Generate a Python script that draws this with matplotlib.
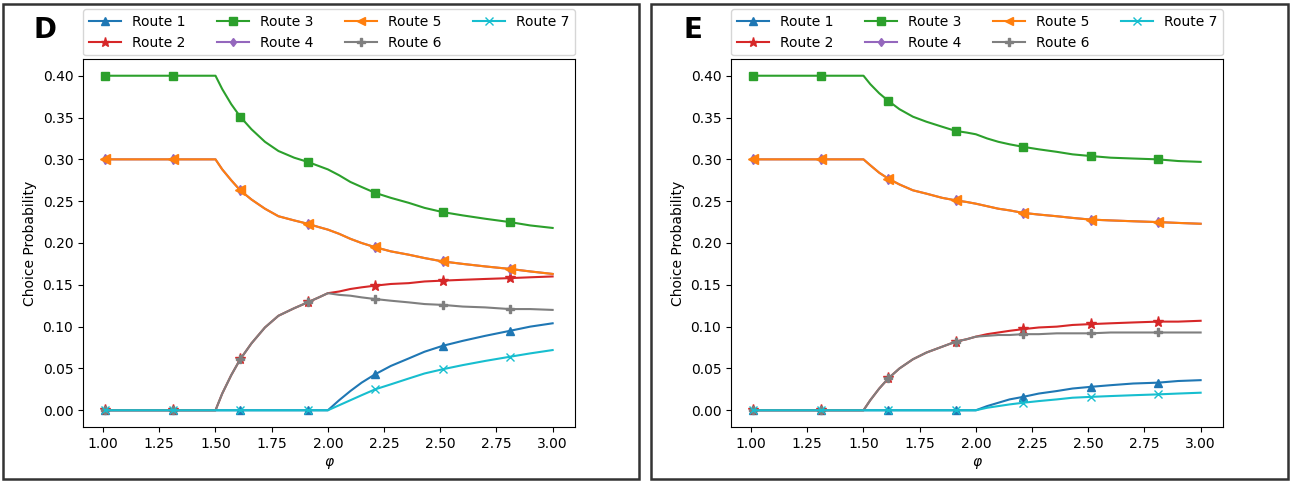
import numpy as np
import matplotlib.pyplot as plt
from matplotlib.patches import Rectangle

# phi sample points (markers sit on 1.01, 1.31, ..., 2.81)
phi = [1.01, 1.31, 1.50, 1.53, 1.57, 1.61, 1.66, 1.72, 1.78, 1.85, 1.91, 1.96, 2.00,
       2.05, 2.10, 2.15, 2.21, 2.28, 2.36, 2.43, 2.51, 2.60, 2.70, 2.81, 2.90, 3.00]
mark_idx = [0, 1, 5, 10, 16, 20, 23]

# panel D
d_r1 = [0, 0, 0, 0, 0, 0, 0, 0, 0, 0, 0, 0, 0,
        0.012, 0.023, 0.033, 0.043, 0.053, 0.062, 0.070, 0.077, 0.083, 0.089, 0.095, 0.100, 0.104]
d_r2 = [0, 0, 0, 0.020, 0.042, 0.061, 0.080, 0.099, 0.113, 0.122, 0.129, 0.135, 0.140,
        0.142, 0.145, 0.147, 0.149, 0.151, 0.152, 0.154, 0.155, 0.156, 0.157, 0.158, 0.159, 0.160]
d_r3 = [0.4, 0.4, 0.4, 0.384, 0.366, 0.351, 0.336, 0.321, 0.310, 0.302, 0.297, 0.292, 0.288,
        0.281, 0.273, 0.267, 0.260, 0.254, 0.248, 0.242, 0.237, 0.233, 0.229, 0.225, 0.221, 0.218]
d_r5 = [0.3, 0.3, 0.3, 0.288, 0.275, 0.263, 0.252, 0.241, 0.232, 0.227, 0.223, 0.219, 0.216,
        0.211, 0.205, 0.200, 0.195, 0.190, 0.186, 0.182, 0.178, 0.175, 0.172, 0.169, 0.166, 0.163]
d_r4 = d_r5
d_r6 = [0, 0, 0, 0.020, 0.042, 0.061, 0.080, 0.099, 0.113, 0.122, 0.129, 0.135, 0.140,
        0.138, 0.137, 0.135, 0.133, 0.131, 0.129, 0.127, 0.126, 0.124, 0.123, 0.121, 0.121, 0.120]
d_r7 = [0, 0, 0, 0, 0, 0, 0, 0, 0, 0, 0, 0, 0,
        0.006, 0.012, 0.018, 0.025, 0.031, 0.038, 0.044, 0.049, 0.054, 0.059, 0.064, 0.068, 0.072]

# panel E
e_r1 = [0, 0, 0, 0, 0, 0, 0, 0, 0, 0, 0, 0, 0,
        0.005, 0.009, 0.013, 0.016, 0.020, 0.023, 0.026, 0.028, 0.030, 0.032, 0.033, 0.035, 0.036]
e_r2 = [0, 0, 0, 0.012, 0.026, 0.038, 0.050, 0.061, 0.069, 0.076, 0.082, 0.085, 0.088,
        0.091, 0.093, 0.095, 0.097, 0.099, 0.100, 0.102, 0.103, 0.104, 0.105, 0.106, 0.106, 0.107]
e_r3 = [0.4, 0.4, 0.4, 0.390, 0.379, 0.370, 0.360, 0.351, 0.345, 0.339, 0.334, 0.332, 0.330,
        0.325, 0.321, 0.318, 0.315, 0.312, 0.309, 0.306, 0.304, 0.302, 0.301, 0.300, 0.298, 0.297]
e_r5 = [0.3, 0.3, 0.3, 0.293, 0.284, 0.277, 0.270, 0.263, 0.259, 0.254, 0.251, 0.249, 0.247,
        0.244, 0.241, 0.239, 0.236, 0.234, 0.232, 0.230, 0.228, 0.227, 0.226, 0.225, 0.224, 0.223]
e_r4 = e_r5
e_r6 = [0, 0, 0, 0.012, 0.026, 0.038, 0.050, 0.061, 0.069, 0.076, 0.082, 0.085, 0.088,
        0.089, 0.090, 0.090, 0.091, 0.091, 0.092, 0.092, 0.092, 0.093, 0.093, 0.093, 0.093, 0.093]
e_r7 = [0, 0, 0, 0, 0, 0, 0, 0, 0, 0, 0, 0, 0,
        0.003, 0.005, 0.007, 0.009, 0.011, 0.013, 0.015, 0.016, 0.017, 0.018, 0.019, 0.020, 0.021]

names = ["Route 1", "Route 2", "Route 3", "Route 4", "Route 5", "Route 6", "Route 7"]
markers = ["^", "*", "s", "d", "<", "P", "x"]
msizes = [6, 8, 6, 5, 6.5, 6, 6]
colors = ["tab:blue", "tab:red", "tab:green", "tab:purple", "tab:orange", "tab:gray", "tab:cyan"]

fig = plt.figure(figsize=(12.93, 4.82), dpi=100)
W, H = 1293, 482

def draw(left, series, letter, frame_x0, frame_x1):
    ax = fig.add_axes([left / W, 1 - 427 / H, 492 / W, 368 / H])
    for ys, nm, mk, ms, c in zip(series, names, markers, msizes, colors):
        ax.plot(phi, ys, color=c, marker=mk, markevery=mark_idx, markersize=ms, linewidth=1.5, label=nm)
    ax.set_xticks([1.0, 1.25, 1.5, 1.75, 2.0, 2.25, 2.5, 2.75, 3.0])
    ax.set_yticks(np.arange(0, 0.41, 0.05))
    ax.set_xlabel(r"$\varphi$")
    ax.set_ylabel("Choice Probability")
    ax.legend(ncol=4, loc="lower left", bbox_to_anchor=(0, 1.01, 1, 0.13), mode="expand",
              borderaxespad=0, fontsize=10, handlelength=2.3, markerscale=0.85)
    fig.text((left - 38) / W, 1 - 30 / H, letter, fontsize=20, fontweight="bold", ha="center", va="center")
    fig.add_artist(Rectangle((frame_x0 / W, 3 / H), (frame_x1 - frame_x0) / W, 475 / H,
                             transform=fig.transFigure, fill=False, edgecolor="#333333", linewidth=1.8))

draw(83, [d_r1, d_r2, d_r3, d_r4, d_r5, d_r6, d_r7], "D", 3, 639)
draw(731, [e_r1, e_r2, e_r3, e_r4, e_r5, e_r6, e_r7], "E", 651, 1288)

plt.savefig("out.png")
